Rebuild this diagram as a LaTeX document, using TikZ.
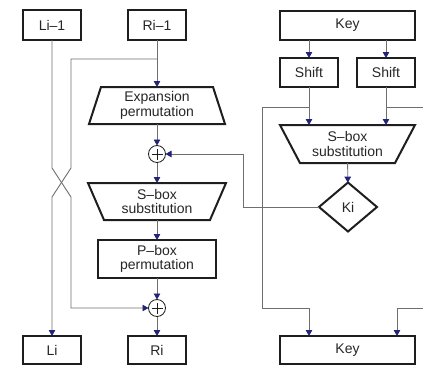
\documentclass[tikz,border=0pt]{standalone}
\usepackage{fontspec}
\setmainfont{Liberation Sans}
\usetikzlibrary{shapes.geometric,arrows.meta,calc}
\definecolor{wirec}{HTML}{6E6E6E}
\definecolor{tipblue}{HTML}{23237A}
\definecolor{edge}{HTML}{1E1E1E}
\definecolor{txt}{HTML}{262626}
\begin{document}
\begin{tikzpicture}[x=1bp,y=-1bp,
  every node/.style={font=\fontsize{14bp}{14.5bp}\selectfont, text=txt,
    inner sep=0pt, outer sep=0pt, align=center},
  blk/.style={draw=edge, line width=2bp},
  wire/.style={draw=wirec, line width=0.9bp},
  arr/.style={wire, -{Triangle[length=6bp,width=6.5bp,color=tipblue]}},
  xor/.style={circle, draw=edge, line width=0.8bp, minimum size=17bp,
    path picture={\draw[line width=0.8bp]
      ([xshift=-5.5bp]path picture bounding box.center) -- ([xshift=5.5bp]path picture bounding box.center)
      ([yshift=-5.5bp]path picture bounding box.center) -- ([yshift=5.5bp]path picture bounding box.center);}},
  trap/.style={line width=2bp, draw=edge, line join=miter}
]
\useasboundingbox (0,0) rectangle (423,365);

% ---- data path: left half / right half ----
\node[blk, minimum width=58bp, minimum height=30bp] (li1) at (52,25) {Li–1};
\node[blk, minimum width=58bp, minimum height=30bp] (ri1) at (157,25) {Ri–1};

\node[minimum width=136bp, minimum height=37bp] (exp) at (157,105.5) {Expansion\\permutation};
\draw[trap] ([xshift=12bp]exp.north west) -- ([xshift=-12bp]exp.north east)
  -- (exp.south east) -- (exp.south west) -- cycle;

\node[xor] (x1) at (157,154) {};

\node[minimum width=138bp, minimum height=37bp] (sbl) at (157,201.5) {S–box\\substitution};
\draw[trap] (sbl.north west) -- (sbl.north east)
  -- ([xshift=-16bp]sbl.south east) -- ([xshift=16bp]sbl.south west) -- cycle;

\node[blk, minimum width=118bp, minimum height=38bp] (pb) at (157,259) {P–box\\permutation};
\node[xor] (x2) at (157,308) {};

\node[blk, minimum width=58bp, minimum height=28bp] (li) at (52,350) {Li};
\node[blk, minimum width=58bp, minimum height=28bp] (ri) at (157,350) {Ri};

% ---- key schedule ----
\node[blk, minimum width=135bp, minimum height=29bp] (k0) at (347.5,25.5) {Key};
\node[blk, minimum width=58bp, minimum height=29bp] (shl) at (309,72.5) {Shift};
\node[blk, minimum width=58bp, minimum height=29bp] (shr) at (386,72.5) {Shift};

\node[minimum width=135bp, minimum height=38bp] (sbr) at (347.5,144) {S–box\\substitution};
\draw[trap] (sbr.north west) -- (sbr.north east)
  -- ([xshift=-20bp]sbr.south east) -- ([xshift=20bp]sbr.south west) -- cycle;

\node[diamond, blk, minimum width=58bp, minimum height=49bp] (ki) at (348,207) {Ki};
\node[blk, minimum width=135bp, minimum height=28bp] (k1) at (347.5,350) {Key};

% ---- bend points ----
\coordinate (rb)   at (157,59);
\coordinate (rtop) at (71,59);
\coordinate (ra)   at (71,168);
\coordinate (rc)   at (52,197);
\coordinate (la)   at (52,168);
\coordinate (lb)   at (71,197);

\coordinate (bl)   at (309,107);
\coordinate (blw)  at (262,107);
\coordinate (blsw) at (262,308);
\coordinate (klin) at (k1.north -| shl);
\coordinate (br)   at (386,107);
\coordinate (bre)  at (423,107);
\coordinate (bre2) at (423,308);
\coordinate (krin) at ([xshift=49.5bp]k1.north);
\coordinate (krb)  at (krin |- bre2);
\coordinate (kw1)  at (243,207);

% ---- round function wiring ----
\draw[arr] (ri1) -- (exp);
\draw[arr] (exp) -- (x1);
\draw[arr] (x1) -- (sbl);
\draw[arr] (sbl) -- (pb);
\draw[arr] (pb) -- (x2);
\draw[arr] (x2) -- (ri);
\draw[arr] (li1) -- (la) -- (lb) |- (x2);
\draw[arr] (rb) -- (rtop) -- (ra) -- (rc) -- (li);

% ---- key schedule wiring ----
\draw[arr] (k0.south -| shl) -- (shl);
\draw[arr] (k0.south -| shr) -- (shr);
\draw[arr] (shl) -- (shl |- sbr.north);
\draw[arr] (shr) -- (shr |- sbr.north);
\draw[arr] (bl) -- (blw) -- (blsw) -| (klin);
\draw[wire] (br) -- (bre);
\draw[arr] (bre2) -- (krb) -- (krin);
\draw[arr] (sbr) -- (ki);
\draw[arr] (ki.west) -- (kw1) |- (x1);
\end{tikzpicture}
\end{document}
